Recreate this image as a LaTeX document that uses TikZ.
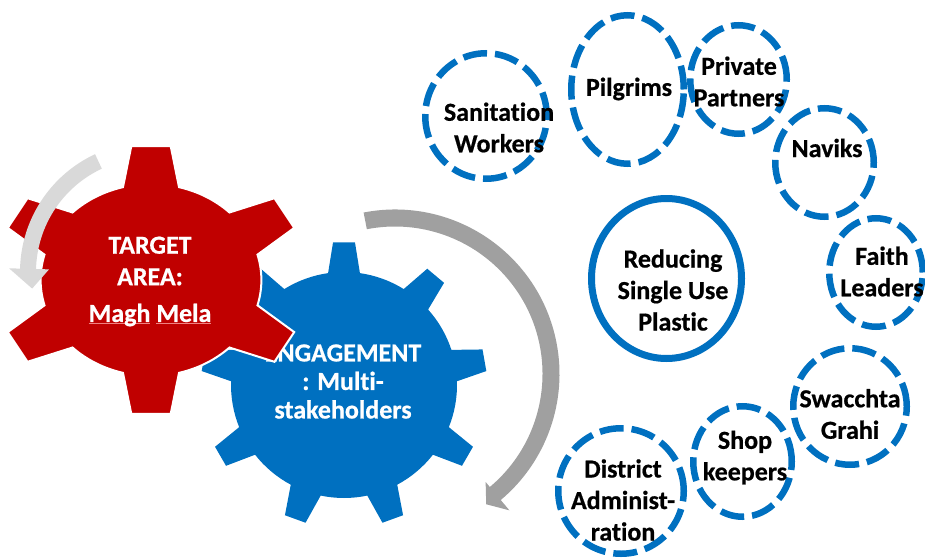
\documentclass[tikz,border=0pt]{standalone}
\usepackage{fontspec}
\setmainfont{Carlito}[Ligatures=NoCommon, BoldFont={Carlito Bold}, BoldFeatures={FakeBold=0.6}]
\usetikzlibrary{shapes.geometric}
\definecolor{gred}{HTML}{C00000}
\definecolor{gblue}{HTML}{0070C0}
\definecolor{arrdark}{HTML}{A0A0A0}
\definecolor{arrlight}{HTML}{D9D9D9}
\definecolor{ulred}{HTML}{F08080}
\newcommand\rul[1]{\setbox0\hbox{#1}\rlap{\color{ulred}\rule[-1.5pt]{\wd0}{0.7pt}}\box0\relax}
\begin{document}
\begin{tikzpicture}[x=1pt,y=1pt,
  dcirc/.style={ellipse, draw=gblue, line width=6.5pt, dash pattern=on 24pt off 8pt, inner sep=0pt},
  scirc/.style={ellipse, draw=gblue, line width=7pt, inner sep=0pt},
  lbl/.style={font=\fontsize{26}{31.5}\selectfont\bfseries, align=center, text=black, inner sep=0pt},
  glbl/.style={font=\fontsize{26}{31.5}\selectfont\bfseries, align=center, text=white, inner sep=0pt},
  blbl/.style={font=\fontsize{26}{28.5}\selectfont\bfseries, align=center, text=white, inner sep=0pt}]
\useasboundingbox (0,0) rectangle (925,-559);

% blue gear
\fill[gblue, shift={(344,-385)}] ({90-8.1}:113)
  \foreach \i in {0,...,8} {
    -- ({90+40*\i-4.4}:143) -- ({90+40*\i+4.4}:143) -- ({90+40*\i+8.1}:113)
    arc[start angle={90+40*\i+8.1}, end angle={90+40*(\i+1)-8.1}, radius=113]
  } -- cycle;
\node[blbl] (eng) at (343,-381.5) {ENGAGEMENT\\: Multi-\\stakeholders};

% dark grey circular arrow
\fill[arrdark, shift={(395,-374)}] (101:164.5)
  arc[start angle=101, end angle=-50, radius=164.5]
  -- (-50:178) -- (-55:159) -- (-50:141) -- (-50:147.5)
  arc[start angle=-50, end angle=101, radius=147.5] -- cycle;

% red gear
\filldraw[fill=gred, draw=white, line width=2pt, shift={(151,-280)}, xscale=1.15] ({90-14.7}:96)
  \foreach \i in {0,...,5} {
    -- ({90+60*\i-7.3}:135) -- ({90+60*\i+7.3}:135) -- ({90+60*\i+14.7}:96)
    arc[start angle={90+60*\i+14.7}, end angle={90+60*(\i+1)-14.7}, radius=96]
  } -- cycle;
\node[glbl] (tgt) at (150,-261) {TARGET\\AREA:};
\node[glbl] (mm) at (150,-315) {\rul{Magh} \rul{Mela}};

% light grey circular arrow
\fill[arrlight, shift={(150,-272)}] (115:130)
  arc[start angle=115, end angle=178.5, radius=130]
  -- (178.5:141) -- (188:119) -- (178.5:101) -- (178.5:114)
  arc[start angle=178.5, end angle=115, radius=114] -- cycle;

% stakeholder circles
\node[dcirc, minimum width=121.5pt, minimum height=125.5pt] (san) at (486,-116) {};
\node[dcirc, minimum width=112.5pt, minimum height=148.5pt] (pil) at (627.5,-89.5) {};
\node[dcirc, minimum width=96.5pt, minimum height=108.5pt] (pri) at (738.5,-79.5) {};
\node[dcirc, minimum width=98.5pt, minimum height=108.5pt] (nav) at (824.5,-162.5) {};
\node[dcirc, minimum width=93.5pt, minimum height=108.5pt] (fai) at (876,-272.5) {};
\node[dcirc, minimum width=113.5pt, minimum height=116.5pt] (swa) at (850,-406.5) {};
\node[dcirc, minimum width=98.5pt, minimum height=110.5pt] (sho) at (742.5,-461.5) {};
\node[dcirc, minimum width=125.5pt, minimum height=125.5pt] (dis) at (621,-491) {};
\node[scirc, minimum width=150pt, minimum height=160pt] (red) at (666.5,-278.5) {};

% labels
\node[lbl] (sanl) at (499,-127.5) {Sanitation\\Workers};
\node[lbl] (pill) at (629,-89) {Pilgrims};
\node[lbl] (pril) at (739,-81.5) {Private\\Partners};
\node[lbl] (navl) at (827,-148) {Naviks};
\node[lbl] (fail) at (882,-271.5) {Faith\\Leaders};
\node[lbl] (swal) at (850,-414) {Swacchta\\Grahi};
\node[lbl] (shol) at (745,-457.5) {Shop\\keepers};
\node[lbl] (disl) at (623,-500) {District\\Administ-\\ration};
\node[lbl] (redl) at (673,-290) {Reducing\\Single Use\\Plastic};
\end{tikzpicture}
\end{document}
